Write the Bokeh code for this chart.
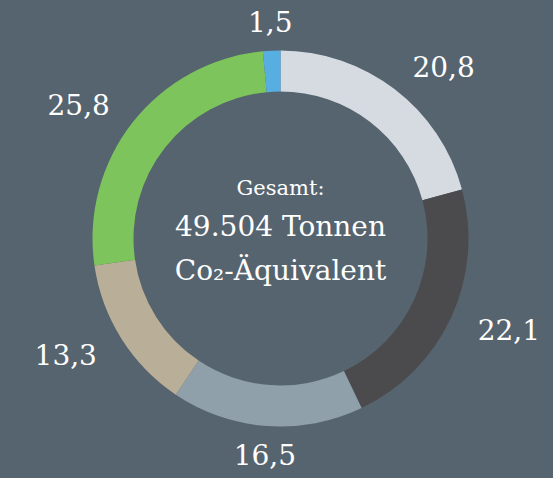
import math
from bokeh.plotting import figure
from bokeh.models import Range1d, ColumnDataSource
from bokeh.core.properties import value
from bokeh.embed import file_html
from bokeh.resources import INLINE

# ---- data ----
values = [20.8, 22.1, 16.5, 13.3, 25.8, 1.5]
labels = ["20,8", "22,1", "16,5", "13,3", "25,8", "1,5"]
colors = ["#d5dbe1", "#4b4b4d", "#8fa0aa", "#b9ae97", "#7dc45c", "#57aee0"]
center_title = "Gesamt:"
center_line1 = "49.504 Tonnen"
center_line2 = "Co₂-Äquivalent"

BG = "#56646f"
W, H = 553, 478
cx, cy = 280, H - 238
R_IN, R_OUT = 147, 188
R_LAB = 217

total = sum(values)
starts, ends = [], []
lx, ly, lalign = [], [], []
cum = 0.0
for v in values:
    a0 = math.pi / 2 - cum / total * 2 * math.pi
    cum += v
    a1 = math.pi / 2 - cum / total * 2 * math.pi
    starts.append(a0)
    ends.append(a1)
    mid = (a0 + a1) / 2
    c, s = math.cos(mid), math.sin(mid)
    lx.append(cx + R_LAB * c)
    ly.append(cy + R_LAB * s)
    if abs(c) < 0.3:
        lalign.append("center")
    elif c > 0:
        lalign.append("left")
    else:
        lalign.append("right")

src = ColumnDataSource(dict(start=starts, end=ends, color=colors))
lab = ColumnDataSource(dict(x=lx, y=ly, text=labels, align=lalign))

p = figure(width=W, height=H, x_range=Range1d(0, W), y_range=Range1d(0, H),
           output_backend="svg", toolbar_location=None, min_border=0)
p.axis.visible = False
p.grid.visible = False
p.outline_line_color = None
p.background_fill_color = BG
p.border_fill_color = BG

p.annular_wedge(x=cx, y=cy, inner_radius=R_IN, outer_radius=R_OUT,
                inner_radius_units="screen", outer_radius_units="screen",
                start_angle="start", end_angle="end", direction="clock",
                fill_color="color", line_color=None, source=src)

p.text(x="x", y="y", text="text", text_align="align", source=lab,
       text_baseline="middle", text_color="white",
       text_font=value("DejaVu Serif"), text_font_size="28px")

p.text(x=[cx], y=[cy + 51], text=[center_title], text_align="center",
       text_baseline="middle", text_color="white",
       text_font=value("DejaVu Serif"), text_font_size="21px")
p.text(x=[cx], y=[cy + 12], text=[center_line1], text_align="center",
       text_baseline="middle", text_color="white",
       text_font=value("DejaVu Serif"), text_font_size="28px")
p.text(x=[cx], y=[cy - 32], text=[center_line2], text_align="center",
       text_baseline="middle", text_color="white",
       text_font=value("DejaVu Serif"), text_font_size="28px")

html = file_html(p, INLINE)
html = html.replace("<head>", "<head><style>html,body{background:%s;}</style>" % BG, 1)
open("out.html", "w").write(html)
